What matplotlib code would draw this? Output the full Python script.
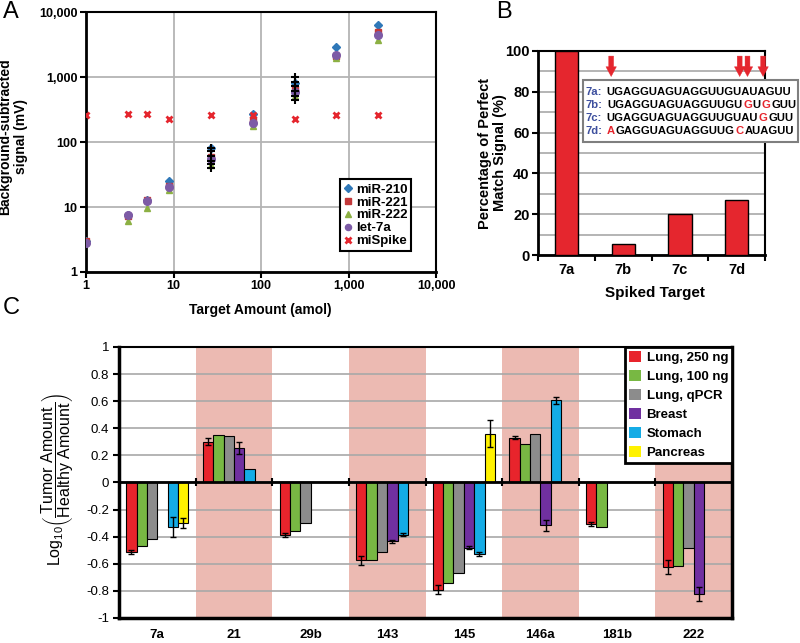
import numpy as np
import matplotlib.pyplot as plt
from matplotlib.patches import Rectangle
from matplotlib.ticker import FixedLocator, MultipleLocator

plt.rcParams['font.family'] = ['Liberation Sans', 'DejaVu Sans']
plt.rcParams['mathtext.fontset'] = 'custom'
plt.rcParams['mathtext.rm'] = 'Liberation Sans'
plt.rcParams['mathtext.it'] = 'Liberation Sans:italic'
plt.rcParams['mathtext.bf'] = 'Liberation Sans:bold'

# ---- panel A data ----
amount = [1, 3, 5, 9, 27, 81, 243, 729, 2187]
mir210 = [3.0, 7.5, 13, 25, 80, 275, 820, 2900, 6400]
mir221 = [3.0, 7.3, 13, 21, 60, 220, 650, 2100, 4900]
mir222 = [2.9, 6.2, 9.8, 18, 45, 175, 520, 1950, 3800]
let7a = [2.8, 7.6, 12.5, 20, 55, 200, 600, 2200, 4500]
mispike = [260, 270, 270, 225, 265, 265, 225, 265, 265]
rep_amount = [27, 27, 27, 27, 27, 27, 243, 243, 243, 243, 243, 243]
rep_signal = [40, 46, 52, 62, 72, 82, 450, 520, 620, 720, 850, 1000]
a_ticks = [1, 10, 100, 1000, 10000]
a_ticklabels = ['1', '10', '100', '1,000', '10,000']

# ---- panel B data ----
targets = ['7a', '7b', '7c', '7d']
pct_signal = [100, 5.5, 20, 27]
seq_labels = ['7a:', '7b:', '7c:', '7d:']
seqs = ['UGAGGUAGUAGGUUGUAUAGUU', 'UGAGGUAGUAGGUUGUGUGGUU',
        'UGAGGUAGUAGGUUGUAUGGUU', 'AGAGGUAGUAGGUUGCAUAGUU']

# ---- panel C data ----
mirnas = ['7a', '21', '29b', '143', '145', '146a', '181b', '222']
samples = ['Lung, 250 ng', 'Lung, 100 ng', 'Lung, qPCR', 'Breast', 'Stomach', 'Pancreas']
nan = np.nan
lung250 = [-0.51, 0.30, -0.39, -0.575, -0.79, 0.33, -0.305, -0.625]
lung250_err = [0.015, 0.025, 0.015, 0.035, 0.035, 0.01, 0.015, 0.05]
lung100 = [-0.47, 0.35, -0.355, -0.57, -0.745, 0.285, -0.33, -0.62]
lungqpcr = [-0.42, 0.34, -0.30, -0.51, -0.67, 0.355, nan, -0.48]
breast = [nan, 0.255, nan, -0.435, -0.48, -0.315, nan, -0.825]
breast_err = [nan, 0.045, nan, 0.01, 0.01, 0.04, nan, 0.05]
stomach = [-0.33, 0.10, nan, -0.385, -0.53, 0.605, nan, nan]
stomach_err = [0.075, nan, nan, 0.01, 0.015, 0.025, nan, nan]
pancreas = [-0.30, nan, nan, nan, 0.36, nan, nan, nan]
pancreas_err = [0.035, nan, nan, nan, 0.10, nan, nan, nan]
shaded = ['21', '143', '146a', '222']

red = '#e5262e'
fig = plt.figure(figsize=(8, 6.43), dpi=100)

# ================= A =================
axA = fig.add_axes([0.1075, 0.577, 0.4375, 0.404])
axA.set_xscale('log')
axA.set_yscale('log')
axA.plot(amount, mir210, 'D', color='#2f78b8', ms=4.5, label='miR-210', zorder=3)
axA.plot(amount, mir221, 's', color='#c2383a', ms=5, label='miR-221', zorder=3)
axA.plot(amount, mir222, '^', color='#8cb043', ms=5, label='miR-222', zorder=3)
axA.plot(amount, let7a, 'o', color='#7d5ba6', ms=5.5, label='let-7a', zorder=3)
axA.plot(amount, mispike, 'x', color=red, ms=5, mew=2, label='miSpike', zorder=3)
axA.plot(rep_amount, rep_signal, '+', color='black', ms=6, mew=1.5, zorder=4)
axA.set_xlim(1, 10000)
axA.set_ylim(1, 10000)
axA.xaxis.set_major_locator(FixedLocator(a_ticks))
axA.yaxis.set_major_locator(FixedLocator(a_ticks))
axA.xaxis.set_minor_locator(FixedLocator([]))
axA.yaxis.set_minor_locator(FixedLocator([]))
axA.set_xticklabels(a_ticklabels, fontsize=9, fontweight='bold')
axA.set_yticklabels(a_ticklabels, fontsize=9, fontweight='bold')
axA.grid(True, color='#b4b4b4', lw=1.3)
axA.set_axisbelow(True)
for s in axA.spines.values():
    s.set_color('black')
    s.set_linewidth(1.5)
axA.spines['left'].set_linewidth(2)
axA.spines['bottom'].set_linewidth(2)
axA.tick_params(length=4, width=1.5, direction='out', pad=2)
axA.set_xlabel('Target Amount (amol)', fontsize=10, fontweight='bold')
axA.xaxis.set_label_coords(0.497, -0.12)
axA.set_ylabel('Background-subtracted\nsignal (mV)', fontsize=10, fontweight='bold',
               linespacing=1.1)
axA.yaxis.set_label_coords(-0.167, 0.52)
legA = axA.legend(loc='lower left', bbox_to_anchor=(0.726, 0.08),
                  prop={'weight': 'bold', 'size': 9.5}, fancybox=False, framealpha=1,
                  edgecolor='black', handlelength=0.6, handletextpad=0.3,
                  labelspacing=0.05, borderpad=0.3, markerscale=0.8, borderaxespad=0)
legA.get_frame().set_linewidth(1.5)

# ================= B =================
axB = fig.add_axes([0.6725, 0.6034, 0.284, 0.3173])
xb = np.arange(len(targets))
axB.bar(xb, pct_signal, width=0.41, color=red, edgecolor='black', lw=1, zorder=3)
axB.set_xlim(-0.5, len(targets) - 0.5)
axB.set_ylim(0, 100)
axB.yaxis.set_major_locator(MultipleLocator(20))
axB.yaxis.set_minor_locator(MultipleLocator(10))
axB.grid(True, axis='y', which='both', color='#a8a8a8', lw=1.2)
axB.set_axisbelow(True)
axB.set_xticks(xb)
axB.set_xticklabels(targets, fontsize=10.5, fontweight='bold')
axB.set_xticks(np.arange(len(targets) + 1) - 0.5, minor=True)
axB.tick_params(axis='x', which='major', length=0, pad=6)
axB.tick_params(axis='x', which='minor', length=4, width=1.5, direction='out')
axB.tick_params(axis='y', which='major', length=4, width=1.5, pad=2)
axB.tick_params(axis='y', which='minor', length=0)
for lab in axB.get_yticklabels():
    lab.set_fontweight('bold')
    lab.set_fontsize(10.5)
for s in axB.spines.values():
    s.set_color('black')
    s.set_linewidth(1.5)
axB.spines['left'].set_linewidth(2)
axB.spines['bottom'].set_linewidth(2)
axB.set_xlabel('Spiked Target', fontsize=11, fontweight='bold')
axB.xaxis.set_label_coords(0.515, -0.15)
axB.set_ylabel('Percentage of Perfect\nMatch Signal (%)', fontsize=10.5, fontweight='bold',
               linespacing=1.1)
axB.yaxis.set_label_coords(-0.137, 0.5)

box = Rectangle((0.198, 0.554), 0.947, 0.304, transform=axB.transAxes, facecolor='white',
                edgecolor='#7f7f7f', lw=1.5, clip_on=False, zorder=5)
axB.add_patch(box)

red_letters = {}
row_y = [0.80, 0.737, 0.673, 0.61]
for r, (lab, seq) in enumerate(zip(seq_labels, seqs)):
    prev = axB.text(0.211, row_y[r], lab, transform=axB.transAxes, fontsize=8.1,
                    fontweight='bold', color='#3d4f9e', va='center', ha='left', zorder=6)
    # split into runs of matching / mismatching letters
    runs = []
    for i, ch in enumerate(seq):
        mis = ch != seqs[0][i]
        if runs and runs[-1][1] == mis and not mis:
            runs[-1][0] += ch
        else:
            runs.append([ch, mis, i])
    for j, (txt, mis, i) in enumerate(runs):
        gap = 3.0 if j == 0 else 0.5
        t = axB.annotate(txt, xy=(1, 0), xycoords=prev, xytext=(gap, 0),
                         textcoords='offset points', va='bottom', ha='left',
                         fontsize=8.1, fontweight='bold', color=red if mis else 'black',
                         zorder=6, annotation_clip=False)
        if mis:
            red_letters[i] = t
        prev = t

for i, t in red_letters.items():
    axB.annotate('', xy=(0.5, 0.875), xycoords=(t, axB.transAxes),
                 xytext=(0.5, 0.975), textcoords=(t, axB.transAxes),
                 arrowprops=dict(arrowstyle='simple,head_length=0.7,head_width=0.75,tail_width=0.35',
                                 color=red, lw=0.3, shrinkA=0, shrinkB=0),
                 annotation_clip=False, zorder=6)

# ================= C =================
axC = fig.add_axes([0.14875, 0.0389, 0.76625, 0.4215])
xc = np.arange(len(mirnas))
for i, m in enumerate(mirnas):
    if m in shaded:
        axC.axvspan(i - 0.5, i + 0.5, color='#ecbab2', lw=0, zorder=0)
series = [lung250, lung100, lungqpcr, breast, stomach, pancreas]
errs = [lung250_err, None, None, breast_err, stomach_err, pancreas_err]
colors = ['#e8242c', '#78b843', '#8c8c8c', '#7030a0', '#15ace6', '#fff200']
w = 0.135
for k, (vals, err, c, lab) in enumerate(zip(series, errs, colors, samples)):
    pos = xc + (k - 2.5) * w
    axC.bar(pos, vals, width=w, color=c, edgecolor='black', lw=0.8, label=lab, zorder=2)
    if err is not None:
        axC.errorbar(pos, vals, yerr=err, fmt='none', ecolor='black', elinewidth=1,
                     capsize=2.5, capthick=1, zorder=3)
axC.axhline(0, color='black', lw=2, zorder=4)
bounds = np.arange(len(mirnas) - 1) + 0.5
axC.plot(bounds, np.zeros_like(bounds), ls='none', marker='|', ms=6, mew=1.5,
         color='black', zorder=4)
axC.set_xlim(-0.5, len(mirnas) - 0.5)
axC.set_ylim(-1, 1)
axC.set_yticks(np.round(np.arange(-1, 1.01, 0.2), 1))
axC.set_yticklabels(['-1', '-0.8', '-0.6', '-0.4', '-0.2', '0', '0.2', '0.4', '0.6', '0.8', '1'],
                    fontsize=9.5)
axC.grid(True, axis='y', color='#a8a8a8', lw=1.2)
axC.set_axisbelow(True)
axC.set_xticks(xc)
axC.set_xticklabels(mirnas, fontsize=9.5, fontweight='bold')
axC.tick_params(axis='x', length=0, pad=8)
axC.tick_params(axis='y', length=4, width=1.5, pad=3)
for s in axC.spines.values():
    s.set_color('black')
    s.set_linewidth(1.5)
axC.spines['left'].set_linewidth(2.5)
axC.spines['bottom'].set_linewidth(2.5)
axC.spines['right'].set_linewidth(2.5)
axC.set_ylabel(r'$\mathrm{Log}_{10}\left(\dfrac{\mathrm{Tumor\ Amount}}{\mathrm{Healthy\ Amount}}\right)$',
               fontsize=11.5)
axC.yaxis.set_label_coords(-0.072, 0.51)
legC = axC.legend(loc='upper right', bbox_to_anchor=(1, 1), borderaxespad=0,
                  prop={'weight': 'bold', 'size': 9.5}, fancybox=False, framealpha=1,
                  edgecolor='black', handlelength=0.9, handleheight=0.9,
                  handletextpad=0.4, labelspacing=0.45, borderpad=0.3)
legC.get_frame().set_linewidth(2)
for h in legC.legend_handles:
    h.set_edgecolor('none')
legC.set_zorder(10)

fig.text(0.004, 0.981, 'A', fontsize=17, va='center', ha='left')
fig.text(0.620, 0.981, 'B', fontsize=17, va='center', ha='left')
fig.text(0.004, 0.521, 'C', fontsize=17, va='center', ha='left')

fig.savefig('out.png', dpi=100)
